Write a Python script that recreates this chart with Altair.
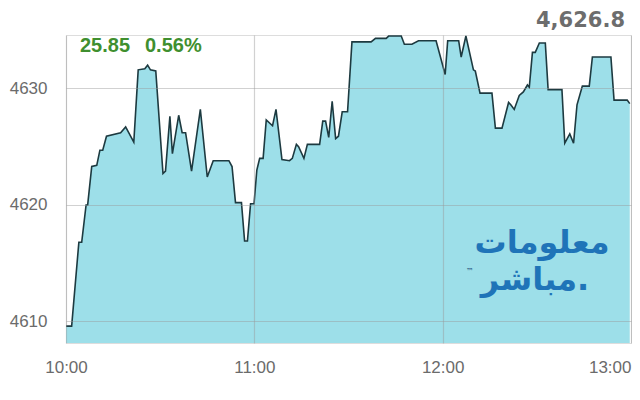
import altair as alt
import pandas as pd

# minutes after 10:00 and index level
minutes = [0.0, 1.8, 4.1, 5.0, 6.4, 6.9, 8.2, 9.8, 10.8, 11.7,
           12.9, 17.4, 19.0, 21.6, 23.0, 25.1, 26.0, 26.9, 28.6, 30.9,
           31.7, 33.1, 33.9, 35.9, 37.0, 38.1, 40.0, 42.8, 45.0, 46.9,
           51.9, 52.9, 54.0, 55.9, 56.9, 57.8, 58.8, 59.9, 60.8, 61.7,
           62.8, 63.8, 65.8, 66.9, 68.8, 71.2, 72.1, 73.4, 74.1, 75.8,
           76.9, 80.8, 81.8, 82.7, 83.7, 84.8, 85.9, 86.8, 88.0, 89.7,
           91.1, 97.2, 98.6, 102.0, 102.8, 106.8, 107.8, 110.2, 112.3, 117.9,
           120.8, 121.6, 125.1, 125.9, 127.4, 129.8, 130.4, 131.9, 135.7, 136.8,
           138.9, 141.0, 141.7, 142.8, 144.4, 145.7, 147.0, 147.6, 148.6, 149.5,
           150.8, 152.7, 153.6, 158.0, 158.9, 160.5, 161.7, 162.8, 164.5, 166.7,
           167.7, 173.6, 174.6, 178.8, 179.6]
values = [4609.6, 4609.6, 4616.8, 4616.8, 4620.0, 4620.0, 4623.3, 4623.4, 4624.7, 4624.7,
          4625.9, 4626.2, 4626.7, 4625.4, 4631.6, 4631.7, 4632.0, 4631.6, 4631.5, 4622.7,
          4622.9, 4627.6, 4624.4, 4627.7, 4626.2, 4626.2, 4622.9, 4628.2, 4622.4, 4623.8,
          4623.8, 4623.3, 4620.2, 4620.2, 4616.9, 4616.9, 4620.1, 4620.1, 4623.0, 4624.0,
          4624.0, 4627.3, 4626.8, 4628.2, 4623.9, 4623.8, 4624.0, 4625.2, 4625.0, 4624.0,
          4625.2, 4625.2, 4627.2, 4627.2, 4625.8, 4628.9, 4625.7, 4625.9, 4628.0, 4628.0,
          4634.0, 4634.0, 4634.3, 4634.3, 4634.5, 4634.5, 4633.8, 4633.8, 4634.1, 4634.1,
          4631.2, 4634.1, 4634.1, 4632.7, 4634.5, 4631.6, 4631.5, 4629.6, 4629.6, 4626.6,
          4626.6, 4628.8, 4628.6, 4628.2, 4629.4, 4629.7, 4630.3, 4630.1, 4633.1, 4633.1,
          4633.9, 4633.9, 4629.9, 4629.9, 4625.3, 4626.1, 4625.3, 4628.6, 4630.2, 4630.2,
          4632.7, 4632.7, 4629.0, 4629.0, 4628.7]

x_ticks = [0, 60, 120, 180]
y_ticks = [4610, 4620, 4630]
last_value = "4,626.8"
change_abs = "25.85"
change_pct = "0.56%"
logo_line1 = "معلومات"
logo_line2 = "مباشر."

df = pd.DataFrame({"m": minutes, "v": values})

W, H = 565, 308
Y_MIN, Y_MAX = 4608.15, 4634.59
xs = alt.Scale(domain=[0, 180], nice=False)
ys = alt.Scale(domain=[Y_MIN, Y_MAX], nice=False, zero=False)

label_font = "Liberation Sans"

x_enc = alt.X("m:Q", scale=xs, axis=alt.Axis(
    values=x_ticks, title=None, domain=False, ticks=False,
    labelExpr="(10 + floor(datum.value / 60)) + ':00'",
    labelAlign=alt.expr("datum.value >= 180 ? 'right' : 'center'"),
    labelPadding=16, labelFont=label_font, labelFontSize=17,
    labelColor="#6b6b6b", grid=True, gridColor="#9a9a9a", gridOpacity=0.45,
    gridWidth=1.2, zindex=1))
y_enc = alt.Y("v:Q", scale=ys, axis=alt.Axis(
    values=y_ticks, title=None, domain=False, ticks=False, format="d",
    labelPadding=19, labelFont=label_font, labelFontSize=17,
    labelColor="#6b6b6b", grid=True, gridColor="#9a9a9a", gridOpacity=0.45,
    gridWidth=1.2, zindex=1))

area = alt.Chart(df).mark_area(color="#9ddfe9", opacity=1).encode(
    x=x_enc, y=y_enc, y2=alt.Y2(datum=Y_MIN))
line = alt.Chart(df).mark_line(color="#1d3a40", strokeWidth=1.6).encode(
    x=alt.X("m:Q", scale=xs), y=alt.Y("v:Q", scale=ys))

def txt(text, x, y, **kw):
    return alt.Chart(pd.DataFrame({"t": [text]})).mark_text(**kw).encode(
        text="t:N", x=alt.value(x), y=alt.value(y))

t_last = txt(last_value, 559, -8, font="DejaVu Sans", fontWeight="bold",
             fontSize=21, color="#6d6d6d", align="right", baseline="alphabetic")
t_abs = txt(change_abs, 14, 17, font="Liberation Sans", fontWeight="bold",
            fontSize=20, color="#3f8f2f", align="left", baseline="alphabetic")
t_pct = txt(change_pct, 79, 17, font="Liberation Sans", fontWeight="bold",
            fontSize=20, color="#3f8f2f", align="left", baseline="alphabetic")

logo1 = txt(logo_line1, 476, 218, font="DejaVu Sans", fontWeight="bold",
            fontSize=32, color="#1f74b8", align="center", baseline="alphabetic")
logo2 = txt(logo_line2, 469, 255, font="DejaVu Sans", fontWeight="bold",
            fontSize=32, color="#1f74b8", align="center", baseline="alphabetic")
tm = txt("™", 404, 239, font="DejaVu Sans", fontSize=8, color="#1f4f7a",
         align="center", baseline="alphabetic")

chart = alt.layer(area, line, t_last, t_abs, t_pct, logo1, logo2, tm).properties(
    width=W, height=H,
    autosize=alt.AutoSizeParams(type="none"),
    padding={"left": 58, "top": 27, "right": 1, "bottom": 45},
).configure_view(stroke=None).configure(background="white")

chart.save("out.html", embed_options={"renderer": "svg", "actions": False})
